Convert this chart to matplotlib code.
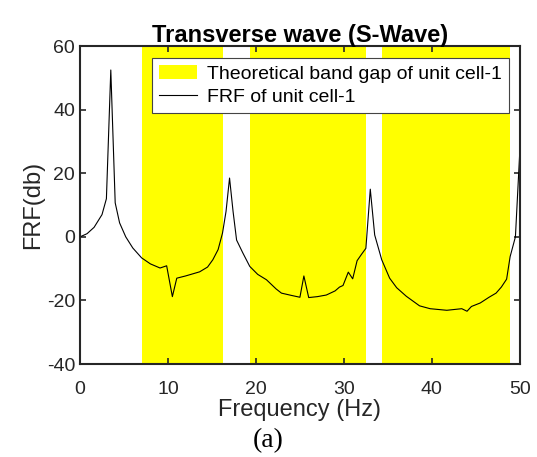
import numpy as np
import matplotlib
matplotlib.use('Agg')
import matplotlib.pyplot as plt

plt.rcParams['font.family'] = ['Liberation Sans', 'DejaVu Sans']
plt.rcParams['axes.unicode_minus'] = False

# theoretical band gaps (Hz)
gap_start = [7.0, 19.3, 34.3]
gap_end = [16.2, 32.5, 48.9]

# FRF curve
freq = [0.0, 0.8, 1.6, 2.5, 3.0, 3.5, 4.0, 4.5, 5.2, 6.0, 7.0, 8.0, 9.1, 9.85,
        10.5, 11.0, 12.0, 13.6, 14.5, 15.1, 15.7, 16.2, 16.6, 17.0, 17.4, 17.8,
        18.5, 19.3, 20.2, 21.2, 22.3, 22.9, 24.0, 25.0, 25.45, 26.0, 27.0, 28.0,
        29.0, 29.5, 29.9, 30.5, 31.0, 31.5, 32.0, 32.5, 33.0, 33.5, 34.3, 35.2,
        36.0, 37.1, 38.6, 39.8, 41.7, 43.4, 44.0, 44.5, 45.5, 46.5, 47.3, 47.9,
        48.5, 48.9, 49.5, 50.0]
frf = [0.0, 1.0, 3.0, 7.0, 12.0, 52.5, 10.7, 4.4, 0.0, -3.5, -6.6, -8.5, -9.8, -9.1,
       -18.8, -13.0, -12.3, -11.0, -9.5, -7.2, -4.0, 1.2, 8.0, 18.5, 8.0, -1.0,
       -5.0, -9.3, -11.8, -13.5, -16.4, -17.7, -18.4, -19.0, -12.3, -19.1, -18.8, -18.3,
       -17.0, -15.8, -15.3, -11.1, -13.2, -7.5, -5.5, -3.6, 15.0, 0.6, -7.2, -13.0,
       -16.0, -18.7, -21.7, -22.6, -23.1, -22.6, -23.4, -21.9, -20.8, -19.0, -17.7, -15.8,
       -13.3, -6.2, 0.0, 27.0]

fig = plt.figure(figsize=(5.37, 4.57), dpi=100)
ax = fig.add_axes([0.149, 0.2035, 0.819, 0.6955])

for i, (a, b) in enumerate(zip(gap_start, gap_end)):
    ax.axvspan(a, b, color='yellow', lw=0,
               label='Theoretical band gap of unit cell-1' if i == 0 else None)
ax.plot(freq, frf, color='black', linewidth=0.8, label='FRF of unit cell-1')

ax.set_xlim(0, 50)
ax.set_ylim(-40, 60)
ax.set_xticks(np.arange(0, 51, 10))
ax.set_yticks(np.arange(-40, 61, 20))
ax.tick_params(direction='in', top=True, right=True, labelsize=14,
               length=4, width=1.2, colors='#262626', labelcolor='#262626')
ax.tick_params(axis='x', pad=12)
for s in ax.spines.values():
    s.set_linewidth(1.5)
    s.set_color('#262626')

ax.set_xlabel('Frequency (Hz)', fontsize=17, color='#262626', labelpad=1)
ax.set_ylabel('FRF(db)', fontsize=17, color='#262626', labelpad=2)
ax.set_title('Transverse wave (S-Wave)', fontsize=17, fontweight='bold', pad=3)

leg = ax.legend(loc='upper right', bbox_to_anchor=(0.975, 0.962), borderaxespad=0,
                fontsize=14, fancybox=False, framealpha=1, edgecolor='#444444',
                handlelength=2.0, handletextpad=0.5, borderpad=0.35, labelspacing=0.3)
leg.get_frame().set_linewidth(0.8)

fig.text(0.5, 0.035, '(a)', ha='center', va='center', fontsize=20,
         family=['Liberation Serif', 'DejaVu Serif'])

fig.savefig('out.png', dpi=100)
